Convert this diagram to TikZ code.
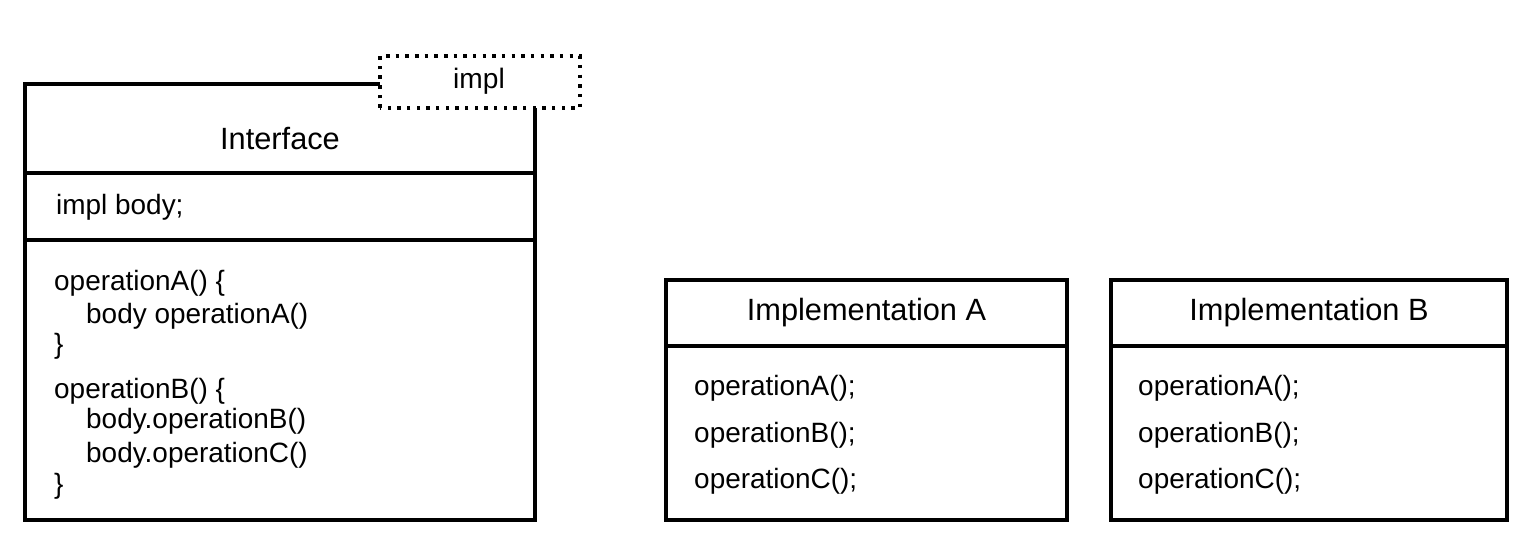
\documentclass[tikz,border=0pt]{standalone}
\usepackage{fontspec}
\setmainfont{Liberation Sans}
\usetikzlibrary{positioning}

\tikzset{
  classline/.style={draw=black,line width=2pt},
  sepline/.style={draw=black,line width=1.8pt},
  parambox/.style={draw=black,fill=white,line width=2pt,dash pattern=on 2pt off 3.5pt},
  titletext/.style={font=\fontsize{17.5}{20}\selectfont,anchor=base},
  membertext/.style={font=\fontsize{15.9}{19}\selectfont,anchor=base west},
}

\begin{document}
\begin{tikzpicture}
\fill[white] (0,0) rectangle (30.36,10.76);

% interface class with template parameter
\draw[classline] (0.5,0.36) rectangle (10.7,9.08);
\draw[sepline] (0.5,7.3) -- (10.7,7.3);
\draw[sepline] (0.5,5.96) -- (10.7,5.96);
\draw[parambox] (7.6,8.6) rectangle (11.6,9.64);
\node[titletext,font=\fontsize{16}{19}\selectfont] (impl) at (9.58, 8.98) {impl};
\node[titletext] (iface) at (5.6, 7.76) {Interface};
\node[membertext] (body) at (1.0, 6.46) {impl body;};
\node[membertext] (opa) at (0.96, 4.96) {operationA() \{};
\node[membertext] (opabody) at (1.6, 4.3) {body operationA()};
\node[membertext] (opaend) at (0.96, 3.7) {\}};
\node[membertext] (opb) at (0.96, 2.8) {operationB() \{};
\node[membertext] (opbbody) at (1.6, 2.2) {body.operationB()};
\node[membertext] (opcbody) at (1.6, 1.52) {body.operationC()};
\node[membertext] (opbend) at (0.96, 0.9) {\}};

% implementation A
\draw[classline] (13.32,0.36) rectangle (21.34,5.16);
\draw[sepline] (13.32,3.84) -- (21.34,3.84);
\node[titletext] (impa) at (17.33, 4.36) {Implementation A};
\node[membertext] (impaa) at (13.76, 2.86) {operationA();};
\node[membertext] (impab) at (13.76, 1.92) {operationB();};
\node[membertext] (impac) at (13.76, 1.0) {operationC();};

% implementation B
\draw[classline] (22.22,0.36) rectangle (30.14,5.16);
\draw[sepline] (22.22,3.84) -- (30.14,3.84);
\node[titletext] (impb) at (26.18, 4.36) {Implementation B};
\node[membertext] (impba) at (22.64, 2.86) {operationA();};
\node[membertext] (impbb) at (22.64, 1.92) {operationB();};
\node[membertext] (impbc) at (22.64, 1.0) {operationC();};

\end{tikzpicture}
\end{document}
